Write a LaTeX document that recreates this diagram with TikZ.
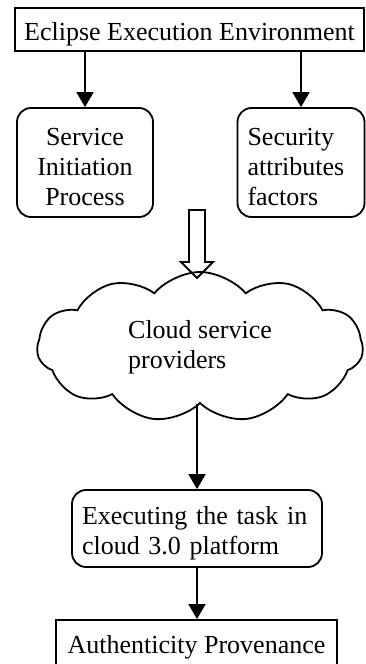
\documentclass[tikz,border=0pt]{standalone}
\usepackage{fontspec}
\setmainfont{Liberation Serif}
\usetikzlibrary{arrows.meta,positioning,shapes.symbols}

\begin{document}
\begin{tikzpicture}[x=1pt, y=-1pt,
  font=\fontsize{26}{30}\selectfont,
  box/.style={draw, line width=1.8pt, inner sep=0pt},
  rbox/.style={box, rounded corners=14pt},
  low/.style={execute at begin node={\rule{0pt}{27pt}}},
  arr/.style={line width=1.8pt, -{Triangle[width=17pt,length=15pt]}}]
  \useasboundingbox (0,0) rectangle (366,664);

  % 顶部
  \node[box, low, minimum width=349pt, minimum height=43pt] (env) at (189.5,29.5) {Eclipse Execution Environment};

  % 两个圆角框
  \node[rbox, low, minimum width=136pt, minimum height=109pt, text width=116pt, align=center] (sip) at (85,162.5) {Service\\Initiation\\Process};
  \node[rbox, low, minimum width=127pt, minimum height=109pt, text width=107pt, align=left] (saf) at (301,162.5) {Security\\attributes\\factors};

  % 云
  \node[cloud, draw, line width=1.8pt, cloud puffs=11, cloud puff arc=100, aspect=2.2,
        minimum width=326pt, minimum height=150pt, inner sep=0pt, align=left] (cloud) at (200,347) {Cloud service\\providers};

  % 下面两个框
  \node[rbox, low, minimum width=250pt, minimum height=77pt, text width=230pt, align=left] (exec) at (197,528.5) {Executing the task in\\cloud 3.0 platform};
  \node[box, minimum width=281pt, minimum height=54pt, anchor=north] (auth) at (196.5,619) {Authenticity Provenance};

  % 箭头
  \draw[arr] (sip.north |- env.south) -- (sip.north);
  \draw[arr] (saf.north |- env.south) -- (saf.north);
  \draw[arr] (exec.north |- cloud.south) -- (exec.north);
  \draw[arr] (exec.south) -- (exec.south |- auth.north);

  % 空心箭头
  \coordinate (tip) at (197,278);
  \draw[line width=1.8pt] (tip) -- ++(-16,-16) -- ++(8,0) -- ++(0,-52) -- ++(16,0)
    -- ++(0,52) -- ++(8,0) -- cycle;
\end{tikzpicture}
\end{document}
